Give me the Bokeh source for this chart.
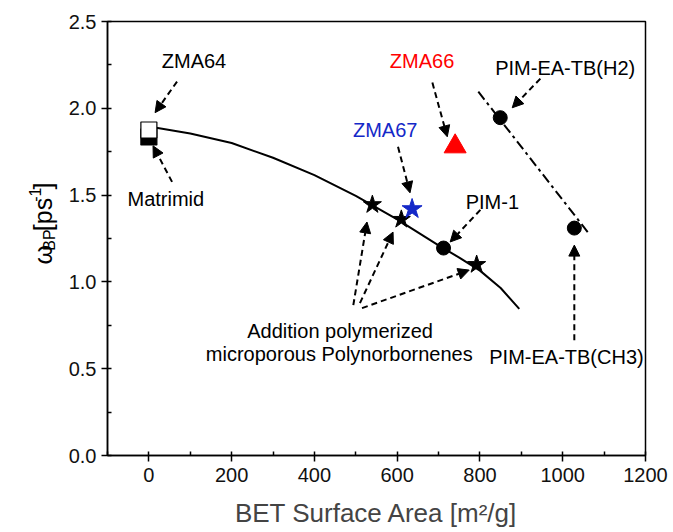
from bokeh.plotting import figure
from bokeh.models import (Range1d, SingleIntervalTicker, NumeralTickFormatter, Arrow,
                          NormalHead, ColumnDataSource)
from bokeh.layouts import row
from bokeh.core.properties import value
from bokeh.embed import file_html
from bokeh.resources import INLINE
import math

FONT = "Liberation Sans"

# --- data ---
fit_x = [0, 100, 200, 300, 400, 500, 600, 700, 750, 800, 850, 895]
fit_y = [1.895, 1.855, 1.80, 1.715, 1.615, 1.495, 1.36, 1.21, 1.14, 1.065, 0.965, 0.845]

pim_line_x = [796, 1062]
pim_line_y = [2.096, 1.282]

zma64_x, zma64_y = [0], [1.875]
matrimid_x, matrimid_y = [0], [1.835]
apn_x = [540, 610, 792]
apn_y = [1.445, 1.36, 1.10]
pim_x = [712, 849, 1028]
pim_y = [1.195, 1.946, 1.31]
zma67_x, zma67_y = [636], [1.42]
zma66_x, zma66_y = [740], [1.78]

label_text = ["ZMA64", "ZMA66", "ZMA67", "PIM-EA-TB(H2)", "PIM-1", "Matrimid",
              "PIM-EA-TB(CH3)", "Addition polymerized", "microporous Polynorbornenes"]
label_x = [109, 660, 571, 1006, 830, 41, 1009, 462, 460]
label_y = [2.27, 2.27, 1.875, 2.234, 1.463, 1.478, 0.566, 0.716, 0.583]
label_color = ["black", "#ff0000", "#1428c8", "black", "black", "black", "black", "black", "black"]

arrow_x0 = [68, 56, 685, 602, 946, 801, 1028, 494, 510, 515]
arrow_y0 = [2.154, 1.576, 2.148, 1.778, 2.171, 1.415, 0.664, 0.866, 0.878, 0.849]
arrow_x1 = [15, 10, 721, 631, 878, 728, 1028, 527, 590, 774]
arrow_y1 = [1.975, 1.784, 1.836, 1.513, 2.003, 1.23, 1.212, 1.345, 1.287, 1.068]

x_ticks_interval = 200
y_ticks_interval = 0.5

# y-axis title pieces: omega_BP [ps^-1]
ytitle_text = ["\u03c9", "BP", "[ps", "-1", "]"]
ytitle_size = ["25px", "16px", "25px", "16px", "25px"]

W, H = 673, 532
LW = 60  # width of the y-title strip

# ---------- y title strip ----------
lab = figure(width=LW, height=H, output_backend="svg", toolbar_location=None,
             x_range=Range1d(0, LW), y_range=Range1d(0, H), min_border=0)
lab.axis.visible = False
lab.grid.visible = False
lab.outline_line_color = None
# screen positions (px from left, px from top) of each piece's start
ytitle_px = [42, 49, 42, 34, 42]
ytitle_py = [298, 281, 257, 221, 206]
ysrc = ColumnDataSource(dict(x=ytitle_px, y=[H - v for v in ytitle_py], t=ytitle_text, s=ytitle_size))
lab.text(x="x", y="y", text="t", text_font_size="s", source=ysrc, angle=math.pi / 2,
         text_font=value(FONT), text_align="left", text_baseline="middle", text_color="black")

# ---------- main plot ----------
p = figure(width=W - LW, height=H, output_backend="svg", toolbar_location=None,
           x_range=Range1d(-100, 1200), y_range=Range1d(0, 2.5),
           min_border_left=107 - LW, min_border_right=28, min_border_top=21, min_border_bottom=77)
p.grid.visible = False
p.outline_line_color = "black"
p.outline_line_width = 1.5
p.background_fill_color = "white"
p.border_fill_color = "white"

for ax in (p.xaxis[0], p.yaxis[0]):
    ax.axis_line_width = 1.5
    ax.major_tick_line_width = 1.5
    ax.minor_tick_line_width = 1.5
    ax.major_tick_out = 6
    ax.major_tick_in = 0
    ax.minor_tick_out = 0
    ax.minor_tick_in = 4
    ax.major_label_text_font = FONT
    ax.major_label_text_font_size = "20px"
    ax.major_label_text_color = "#111111"

p.xaxis[0].ticker = SingleIntervalTicker(interval=x_ticks_interval, num_minor_ticks=2)
p.yaxis[0].ticker = SingleIntervalTicker(interval=y_ticks_interval, num_minor_ticks=2)
p.yaxis[0].formatter = NumeralTickFormatter(format="0.0")
p.xaxis[0].axis_label = "BET Surface Area [m\u00b2/g]"
p.xaxis[0].axis_label_text_font = FONT
p.xaxis[0].axis_label_text_font_style = "normal"
p.xaxis[0].axis_label_text_font_size = "26px"
p.xaxis[0].axis_label_standoff = 13
p.xaxis[0].major_label_standoff = 6
p.yaxis[0].major_label_standoff = 5

# lines
p.line(fit_x, fit_y, line_color="black", line_width=2)
p.line(pim_line_x, pim_line_y, line_color="black", line_width=2, line_dash="10 4 3 4")

# markers
p.scatter(matrimid_x, matrimid_y, marker="square", size=16, fill_color="black", line_color="black", line_width=1.2)
p.scatter(zma64_x, zma64_y, marker="square", size=16, fill_color="white", line_color="black", line_width=1.2)
p.scatter(apn_x, apn_y, marker="star", size=19, fill_color="black", line_color="black")
p.scatter(pim_x, pim_y, marker="circle", size=14, fill_color="black", line_color="black")
p.scatter(zma67_x, zma67_y, marker="star", size=21, fill_color="#1428c8", line_color="#1428c8")
p.scatter(zma66_x, zma66_y, marker="triangle", size=22, fill_color="#ff0000", line_color="#ff0000")

# arrows
asrc = ColumnDataSource(dict(x0=arrow_x0, y0=arrow_y0, x1=arrow_x1, y1=arrow_y1))
p.add_layout(Arrow(x_start="x0", y_start="y0", x_end="x1", y_end="y1", source=asrc,
                   line_color="black", line_width=2, line_dash="6 4",
                   end=NormalHead(size=11, fill_color="black", line_color="black", line_width=1)))

# annotation texts
tsrc = ColumnDataSource(dict(x=label_x, y=label_y, t=label_text, c=label_color))
p.text(x="x", y="y", text="t", text_color="c", source=tsrc, text_font=value(FONT),
       text_font_size="20px", text_align="center", text_baseline="middle")

layout = row(lab, p)
open("out.html", "w").write(file_html(layout, INLINE))
